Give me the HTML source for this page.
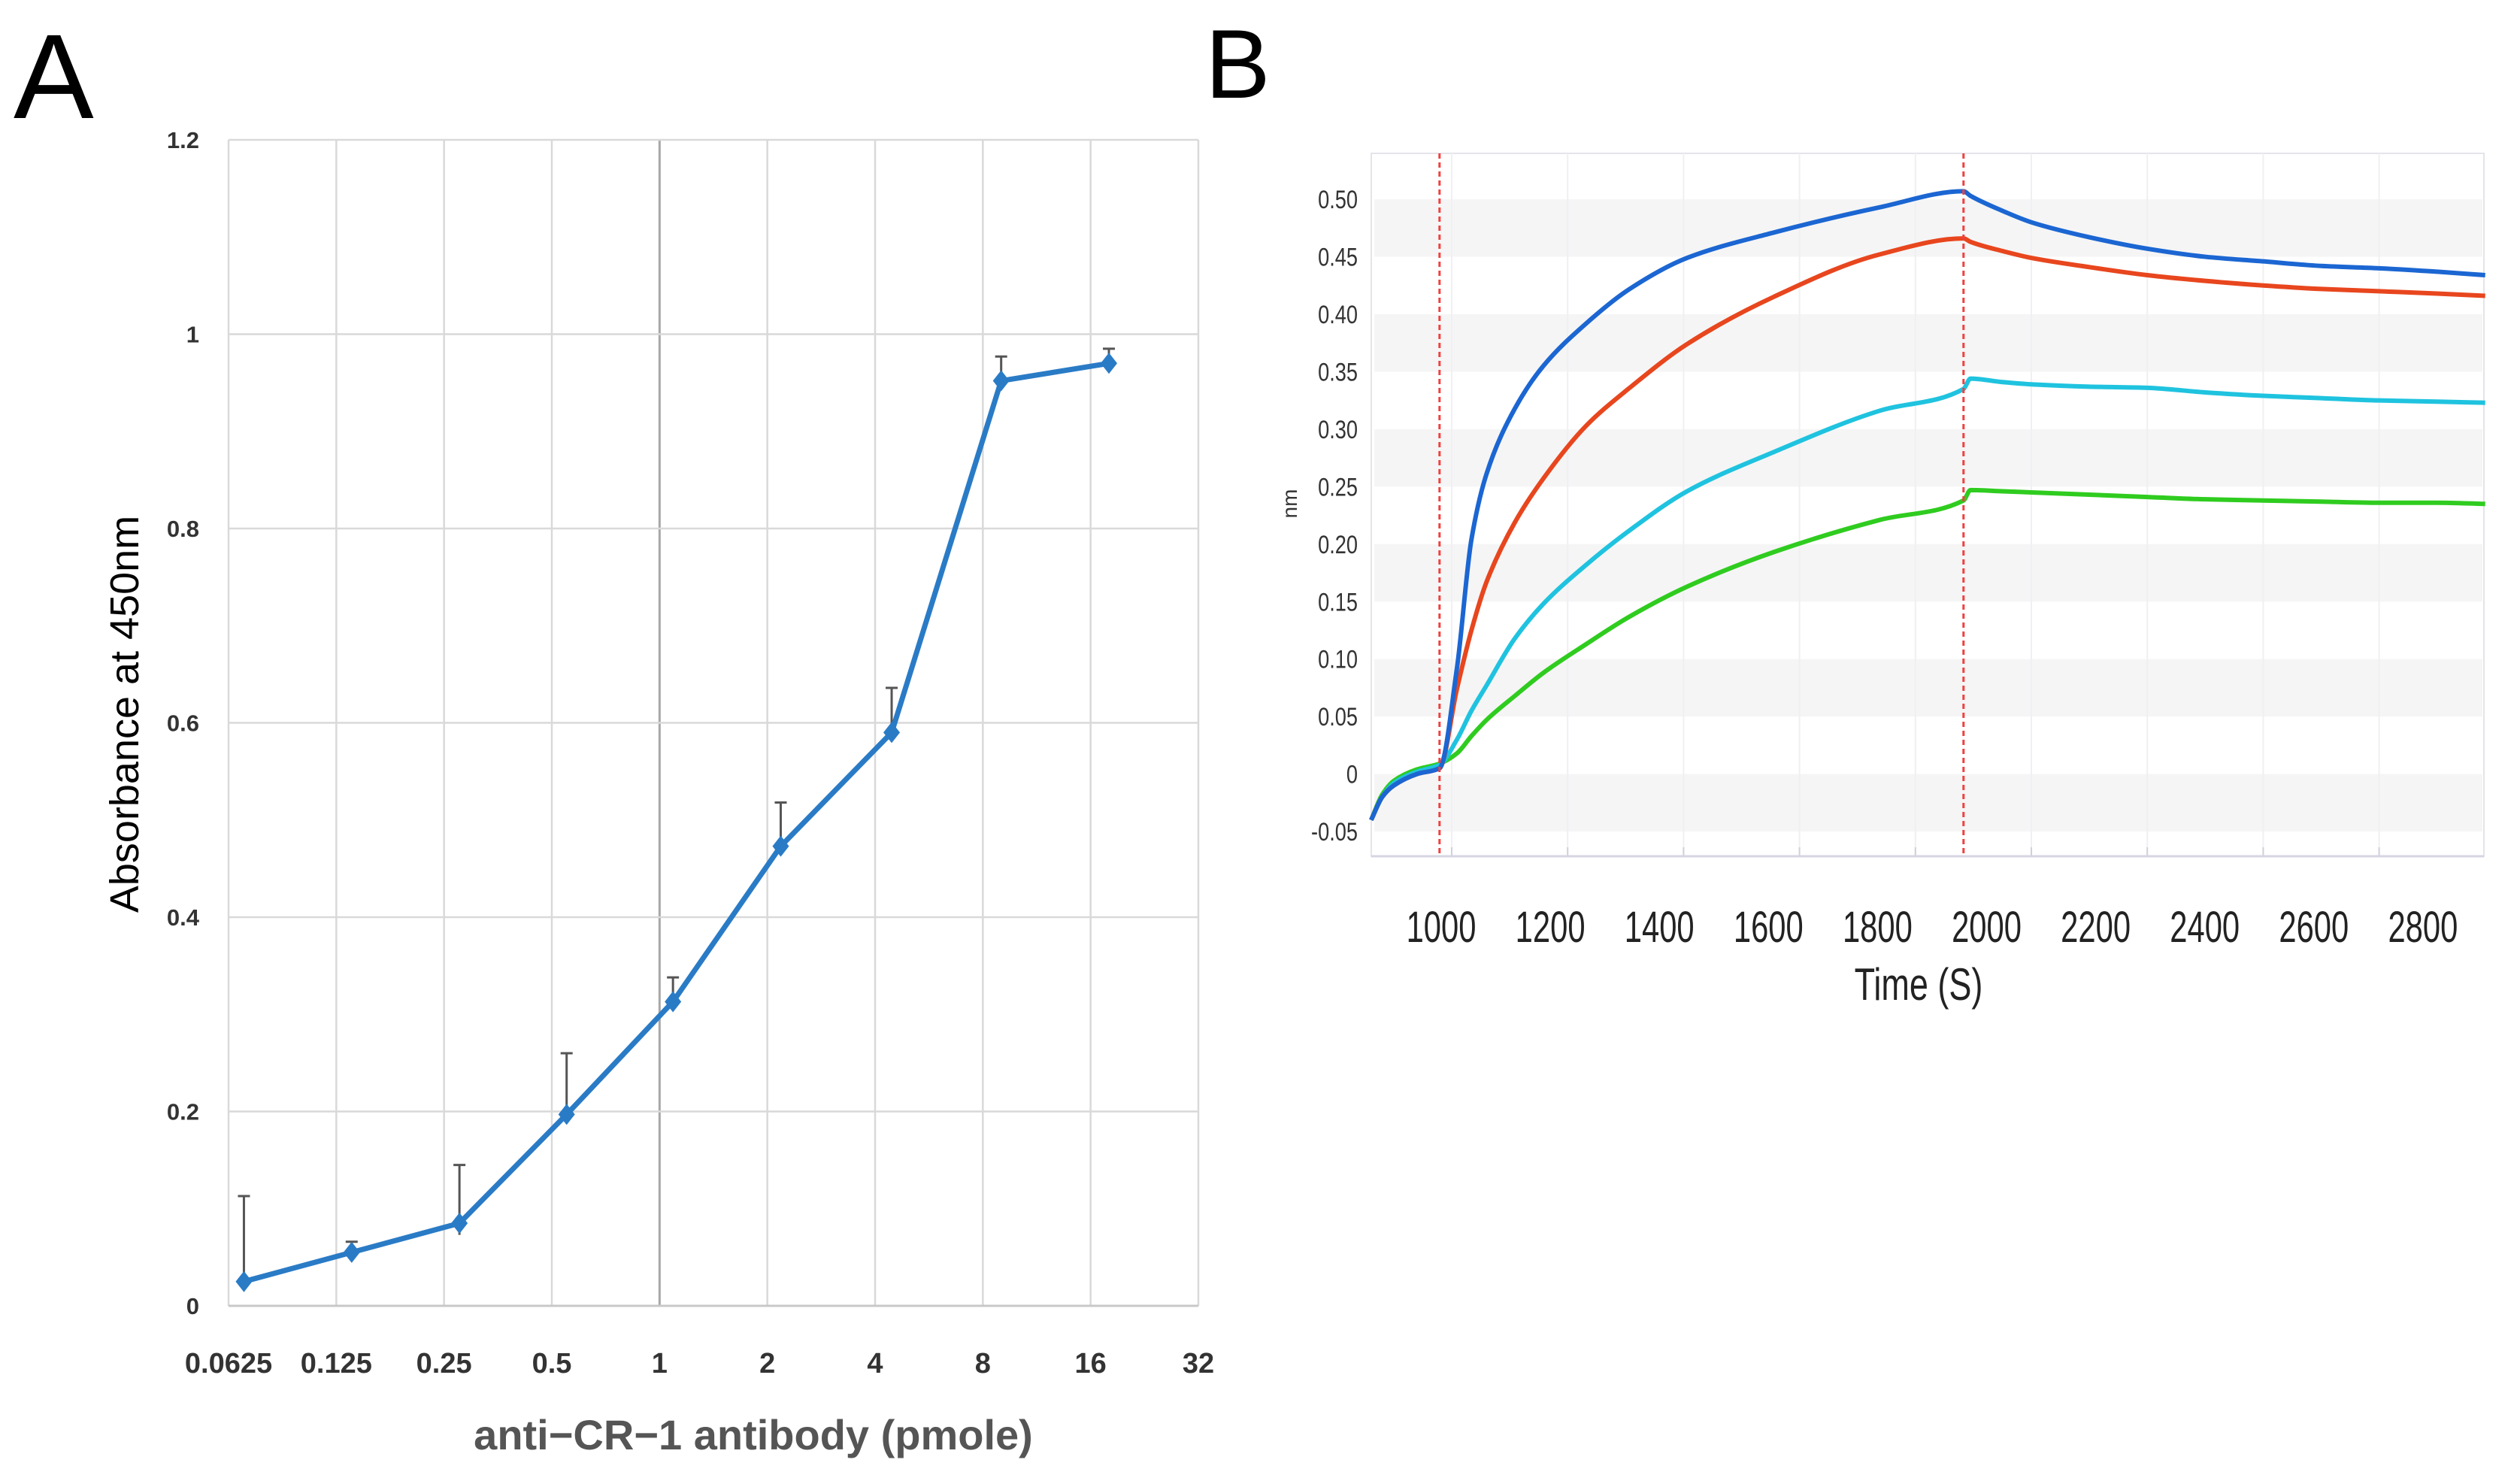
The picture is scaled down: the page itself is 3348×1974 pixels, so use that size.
<!DOCTYPE html>
<html><head><meta charset="utf-8">
<style>
html,body{margin:0;padding:0;background:#fff;}
svg{display:block;}
text{font-family:"Liberation Sans",sans-serif;}
</style></head>
<body>
<svg id="fig" width="3348" height="1974" viewBox="0 0 3348 1974" xmlns="http://www.w3.org/2000/svg">
<rect width="3348" height="1974" fill="#fff"/>
<text x="18" y="157" font-size="160" fill="#000">A</text>
<text x="1603" y="130" font-size="130" fill="#000">B</text>
<g id="chartA"></g>
<g id="chartB"></g>
</svg>
<script>
// ---------- Panel A data ----------
const aXTicks = [0.0625,0.125,0.25,0.5,1,2,4,8,16,32];
const aXTickLabels = ["0.0625","0.125","0.25","0.5","1","2","4","8","16","32"];
const aYTicks = [0,0.2,0.4,0.6,0.8,1,1.2];
const aYTickLabels = ["0","0.2","0.4","0.6","0.8","1","1.2"];
const aDose = [0.069,0.138,0.276,0.55,1.09,2.18,4.45,9.0,18.0];
const aAbs = [0.025,0.055,0.085,0.197,0.313,0.473,0.590,0.952,0.970];
const aErrUp = [0.088,0.011,0.060,0.063,0.025,0.045,0.046,0.025,0.015];
const aErrDown = [0.000,0.008,0.012,0.005,0.005,0.005,0.005,0.005,0.003];

// ---------- Panel B data ----------
const bXTicks = [1000,1200,1400,1600,1800,2000,2200,2400,2600,2800];
const bXTickLabels = ["1000","1200","1400","1600","1800","2000","2200","2400","2600","2800"];
const bYTicks = [-0.05,0,0.05,0.10,0.15,0.20,0.25,0.30,0.35,0.40,0.45,0.50];
const bYTickLabels = ["-0.05","0","0.05","0.10","0.15","0.20","0.25","0.30","0.35","0.40","0.45","0.50"];
const bStepTimes = [979,1883];
const bTime  = [861,880,900,940,979,1009,1034,1060,1109,1158,1232,1307,1406,1555,1738,1883,1895,1950,2000,2100,2200,2300,2400,2500,2600,2700,2783];
const bBlue  = [-0.040,-0.020,-0.010,0.000,0.005,0.092,0.204,0.261,0.318,0.355,0.392,0.422,0.449,0.471,0.493,0.507,0.503,0.490,0.480,0.467,0.457,0.450,0.446,0.442,0.440,0.437,0.434];
const bRed   = [-0.040,-0.020,-0.010,0.000,0.005,0.074,0.125,0.167,0.219,0.257,0.303,0.336,0.374,0.415,0.452,0.466,0.463,0.455,0.449,0.441,0.434,0.429,0.425,0.422,0.420,0.418,0.416];
const bCyan  = [-0.040,-0.020,-0.008,0.002,0.008,0.030,0.055,0.077,0.118,0.148,0.182,0.212,0.246,0.280,0.316,0.335,0.344,0.341,0.339,0.337,0.336,0.332,0.329,0.327,0.325,0.324,0.323];
const bGreen = [-0.040,-0.018,-0.006,0.004,0.009,0.018,0.033,0.047,0.068,0.088,0.113,0.137,0.163,0.193,0.221,0.238,0.247,0.246,0.245,0.243,0.241,0.239,0.238,0.237,0.236,0.236,0.235];

const NS="http://www.w3.org/2000/svg";
function mk(parent, tag, attrs, txt){
  const e=document.createElementNS(NS,tag);
  for(const k in attrs) e.setAttribute(k,attrs[k]);
  if(txt!==undefined) e.textContent=txt;
  parent.appendChild(e); return e;
}

// ===== Panel A =====
(function(){
  const g=document.getElementById('chartA');
  const L=304,R=1594,T=186,B=1737;
  const ax=v=>L+(Math.log2(v)-Math.log2(0.0625))/9*(R-L);
  const ay=v=>B-v/1.2*(B-T);
  aXTicks.forEach((v,i)=>{
    const l=mk(g,'line',{x1:ax(v),x2:ax(v),y1:T,y2:B,stroke:(v===1?'#a8a8a8':'#d9d9d9'),'stroke-width':v===1?3:2.5});
    
    
    const t=mk(g,'text',{x:ax(v),y:1826,'font-size':38,'font-weight':'bold','fill':'#333','text-anchor':'middle'},aXTickLabels[i]);
    
    
  });
  aYTicks.forEach((v,i)=>{
    const l=mk(g,'line',{x1:L,x2:R,y1:ay(v),y2:ay(v),stroke:'#d9d9d9','stroke-width':2.5});
    
    
    const t=mk(g,'text',{x:265,y:ay(v)+11,'font-size':31,'font-weight':'bold','fill':'#333','text-anchor':'end'},aYTickLabels[i]);
    
    
  });
  const xa=mk(g,'line',{x1:L,x2:R,y1:B,y2:B,stroke:'#c8c8c8','stroke-width':3});
  
  
  aDose.forEach((d,i)=>{
    const x=ax(d);
    const e=mk(g,'path',{d:`M${x},${ay(aAbs[i]-aErrDown[i])} V${ay(aAbs[i]+aErrUp[i])} M${x-8},${ay(aAbs[i]+aErrUp[i])} H${x+8}`,stroke:'#555','stroke-width':3,fill:'none'});
    
    
  });
  const pts=aDose.map((d,i)=>ax(d)+','+ay(aAbs[i])).join(' ');
  const pl=mk(g,'polyline',{points:pts,fill:'none',stroke:'#2a7bc6','stroke-width':7,'stroke-linejoin':'round'});
  
  
  aDose.forEach((d,i)=>{
    const x=ax(d),y=ay(aAbs[i]);
    const m=mk(g,'path',{d:`M${x},${y-14} L${x+11},${y} L${x},${y+14} L${x-11},${y} Z`,fill:'#2a7bc6'});
    
    
  });
  const xt=mk(g,'text',{x:1002,y:1928,'font-size':56,'font-weight':'bold',fill:'#555','text-anchor':'middle'},'anti\u2212CR\u22121 antibody (pmole)');
  
  
  const yt=mk(g,'text',{x:0,y:0,'font-size':54,fill:'#000','text-anchor':'middle',transform:'translate(184,950) rotate(-90)'},'Absorbance at 450nm');
  
  
})();

// ===== Panel B =====
(function(){
  const g=document.getElementById('chartB');
  const L=1824,R=3304,T=204,B=1139;
  const bx=v=>1931+(v-1000)/200*154.2;
  const by=v=>1029.6-v/0.05*76.45;
  const lx=v=>1917+(v-1000)/200*145.1;
  mk(g,'rect',{x:L,y:T,width:R-L,height:B-T,fill:'#fff',stroke:'#e4e4ea','stroke-width':2});
  for(let i=0;i+1<bYTicks.length;i+=2){
    const lo=bYTicks[i],hi=bYTicks[i+1];
    const r=mk(g,'rect',{x:L+4,y:by(hi),width:R-L-6,height:by(lo)-by(hi),fill:'#f5f5f5'});
    
    
  }
  bXTicks.forEach((v,i)=>{
    if(bx(v)<R){
      const l=mk(g,'line',{x1:bx(v),x2:bx(v),y1:T,y2:B,stroke:'#f0f0f4','stroke-width':2});
      
      
      const tk=mk(g,'line',{x1:bx(v),x2:bx(v),y1:B-12,y2:B,stroke:'#d0d0dc','stroke-width':2});
      
      
    }
    const t=mk(g,'text',{x:0,y:0,'font-size':58,fill:'#222','text-anchor':'middle',transform:`translate(${lx(v)},1253) scale(0.72,1)`},bXTickLabels[i]);
    
    
  });
  bYTicks.forEach((v,i)=>{
    const t=mk(g,'text',{x:0,y:0,'font-size':34,fill:'#333','text-anchor':'end',transform:`translate(1806,${by(v)+12}) scale(0.8,1)`},bYTickLabels[i]);
    
    
  });
  const ax=mk(g,'line',{x1:L,x2:R,y1:B,y2:B,stroke:'#d6d6e2','stroke-width':3});
  
  
  // monotone cubic interpolation (no overshoot)
  function monotone(xs,ys){
    const n=xs.length, d=[], m=new Array(n);
    for(let i=0;i<n-1;i++) d.push((ys[i+1]-ys[i])/(xs[i+1]-xs[i]));
    m[0]=d[0]; m[n-1]=d[n-2];
    for(let i=1;i<n-1;i++){
      if(d[i-1]*d[i]<=0) m[i]=0;
      else { const w1=2*(xs[i+1]-xs[i])+(xs[i]-xs[i-1]), w2=(xs[i+1]-xs[i])+2*(xs[i]-xs[i-1]);
        m[i]=(w1+w2)/(w1/d[i-1]+w2/d[i]); }
    }
    let p=`M${xs[0]},${ys[0]}`;
    for(let i=0;i<n-1;i++){
      const h=(xs[i+1]-xs[i])/3;
      p+=` C${xs[i]+h},${ys[i]+m[i]*h} ${xs[i+1]-h},${ys[i+1]-m[i+1]*h} ${xs[i+1]},${ys[i+1]}`;
    }
    return p;
  }
  const series=[[bGreen,'#2fcc1f','green-curve'],[bCyan,'#1fc3df','cyan-curve'],[bRed,'#e8461e','red-curve'],[bBlue,'#1b66d2','blue-curve']];
  const xs=bTime.map(bx);
  series.forEach(s=>{
    const p=mk(g,'path',{d:monotone(xs,s[0].map(by)),fill:'none',stroke:s[1],'stroke-width':6,'stroke-linejoin':'round'});
    
    
  });
  bStepTimes.forEach(v=>{
    const l=mk(g,'line',{x1:bx(v),x2:bx(v),y1:T,y2:B,stroke:'#f04040','stroke-width':3,'stroke-dasharray':'7,5'});
    
    
  });
  const yt=mk(g,'text',{x:0,y:0,'font-size':28,fill:'#333','text-anchor':'middle',transform:'translate(1725,670) rotate(-90)'},'nm');
  
  
  const xt=mk(g,'text',{x:0,y:0,'font-size':60,fill:'#222','text-anchor':'middle',transform:'translate(2552,1330) scale(0.75,1)'},'Time (S)');
  
  
})();
</script>
</body></html>
